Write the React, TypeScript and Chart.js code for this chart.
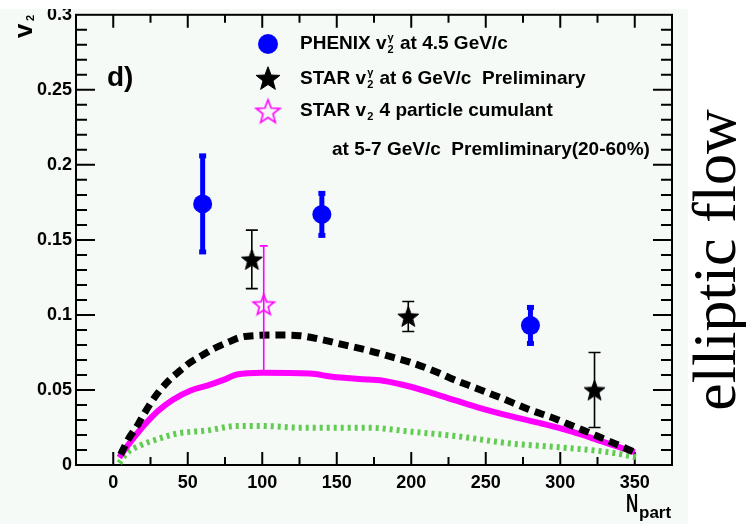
import React, { useEffect, useRef } from "react";
import { Chart, registerables } from "chart.js";

Chart.register(...registerables);

// ---- axes ----
const xTickValues = [0, 50, 100, 150, 200, 250, 300, 350];
const xTickLabels = ["0", "50", "100", "150", "200", "250", "300", "350"];
const yTickValues = [0, 0.05, 0.1, 0.15, 0.2, 0.25, 0.3];
const yTickLabels = ["0", "0.05", "0.1", "0.15", "0.2", "0.25", "0.3"];
const X_MIN = -25;
const X_MAX = 375;
const Y_MIN = 0;
const Y_MAX = 0.3;
const X_MINOR_STEP = 25;
const Y_MINOR_STEP = 0.01;

// ---- PHENIX v2 (gamma) at 4.5 GeV/c ----
const phenixNpart = [60, 140, 280];
const phenixV2 = [0.174, 0.167, 0.093];
const phenixErr = [0.033, 0.015, 0.013];

// ---- STAR v2 (gamma) at 6 GeV/c, preliminary ----
const starNpart = [93, 198, 323];
const starV2 = [0.137, 0.099, 0.05];
const starErr = [0.0195, 0.01, 0.025];

// ---- STAR v2{4} at 5-7 GeV/c ----
const cumNpart = [101];
const cumV2 = [0.107];
const cumErrUp = [0.039];
const cumErrDown = [0.045];

// ---- model curves ----
const dashNpart = [5, 10, 16, 20, 25, 30, 37, 45, 52, 60, 68, 78, 85, 96, 110, 125, 140, 155, 171, 185, 199, 217, 226, 244, 261, 279, 297, 306, 324, 341, 352];
const dashV2 = [0.007, 0.017, 0.026, 0.033, 0.041, 0.048, 0.056, 0.063, 0.0686, 0.0733, 0.0778, 0.0822, 0.085, 0.0863, 0.0866, 0.0862, 0.0835, 0.08, 0.0764, 0.0725, 0.0686, 0.062, 0.058, 0.051, 0.0444, 0.037, 0.0307, 0.027, 0.0196, 0.0124, 0.0075];

const solidNpart = [4, 9, 16, 23, 30, 40, 52, 63, 74, 83, 100, 132, 147, 165, 181, 199, 221, 244, 266, 288, 308, 328, 344, 350];
const solidV2 = [0.005, 0.012, 0.021, 0.029, 0.036, 0.0435, 0.0497, 0.0529, 0.0567, 0.0603, 0.0614, 0.0609, 0.0588, 0.0573, 0.0562, 0.0523, 0.0458, 0.0386, 0.0327, 0.0275, 0.0222, 0.0157, 0.0105, 0.0085];

const dotNpart = [4, 9, 18, 29, 43, 63, 83, 100, 125, 147, 172, 199, 232, 266, 299, 333, 351];
const dotV2 = [0.0013, 0.0078, 0.013, 0.017, 0.021, 0.023, 0.026, 0.026, 0.0249, 0.0248, 0.0248, 0.0223, 0.019, 0.0144, 0.0118, 0.0085, 0.0052];

const SANS = '"Liberation Sans", Arial, Helvetica, sans-serif';
const SERIF = '"Liberation Serif", "Times New Roman", serif';
const BLUE = "#0000ff";
const MAGENTA = "#ff00ff";
const GREEN = "#62cc52";
const PANEL_BG = "rgb(245,250,247)";

function toPoints(xs: number[], ys: number[]) {
  return xs.map((x, i) => ({ x, y: ys[i] }));
}

function makeStar(R: number, fill: string | null, stroke: string, lw: number): HTMLCanvasElement {
  const size = Math.ceil(2 * R + lw + 2);
  const c = document.createElement("canvas");
  c.width = size;
  c.height = size;
  const g = c.getContext("2d")!;
  g.translate(size / 2, size / 2 + R * 0.1);
  g.beginPath();
  for (let i = 0; i < 10; i++) {
    const r = i % 2 === 0 ? R : R * 0.42;
    const a = -Math.PI / 2 + (i * Math.PI) / 5;
    const px = r * Math.cos(a);
    const py = r * Math.sin(a);
    if (i === 0) g.moveTo(px, py);
    else g.lineTo(px, py);
  }
  g.closePath();
  if (fill) {
    g.fillStyle = fill;
    g.fill();
  }
  g.strokeStyle = stroke;
  g.lineWidth = lw;
  g.lineJoin = "miter";
  g.stroke();
  return c;
}

type Seg = { t: string; sup?: string; sub?: string };

function drawRich(ctx: CanvasRenderingContext2D, x: number, y: number, segs: Seg[], size: number) {
  let cx = x;
  for (const s of segs) {
    ctx.font = `bold ${size}px ${SANS}`;
    ctx.fillText(s.t, cx, y);
    cx += ctx.measureText(s.t).width;
    if (s.sup || s.sub) {
      const small = Math.round(size * 0.6);
      ctx.font = `bold ${small}px ${SANS}`;
      let w = 0;
      if (s.sup) {
        ctx.fillText(s.sup, cx + 1, y - size * 0.4);
        w = Math.max(w, ctx.measureText(s.sup).width);
      }
      if (s.sub) {
        ctx.fillText(s.sub, cx + 1, y + size * 0.22);
        w = Math.max(w, ctx.measureText(s.sub).width);
      }
      cx += w + 2;
    }
  }
}

// legend marker images, built once the DOM is available
let legendStars: { filled: HTMLCanvasElement; open: HTMLCanvasElement } | null = null;

// Error bars are drawn just before the marker dataset that owns them.
const errorBarPlugin = {
  id: "errorBars",
  beforeDatasetDraw(chart: any, args: any) {
    const ds = chart.data.datasets[args.index];
    const spec = ds.errorSpec;
    if (!spec) return;
    const { ctx } = chart;
    const xs = chart.scales.x;
    const ys = chart.scales.y;
    ctx.save();
    ctx.strokeStyle = spec.color;
    ctx.fillStyle = spec.color;
    spec.xs.forEach((xv: number, i: number) => {
      const px = xs.getPixelForValue(xv);
      const pTop = ys.getPixelForValue(spec.ys[i] + spec.up[i]);
      const pBot = ys.getPixelForValue(spec.ys[i] - spec.down[i]);
      ctx.lineWidth = spec.lw;
      ctx.beginPath();
      ctx.moveTo(px, pTop);
      ctx.lineTo(px, pBot);
      ctx.stroke();
      if (spec.capStyle === "block") {
        ctx.fillRect(px - spec.cap / 2, pTop - 1, spec.cap, 5);
        ctx.fillRect(px - spec.cap / 2, pBot - 4, spec.cap, 5);
      } else {
        ctx.lineWidth = 1.6;
        ctx.beginPath();
        ctx.moveTo(px - spec.cap / 2, pTop);
        ctx.lineTo(px + spec.cap / 2, pTop);
        ctx.moveTo(px - spec.cap / 2, pBot);
        ctx.lineTo(px + spec.cap / 2, pBot);
        ctx.stroke();
      }
    });
    ctx.restore();
  },
};

// Panel background, frame with inward ticks on all four sides, and annotations.
const framePlugin = {
  id: "frame",
  beforeDraw(chart: any) {
    const { ctx } = chart;
    ctx.save();
    ctx.fillStyle = "#ffffff";
    ctx.fillRect(0, 0, chart.width, chart.height);
    ctx.fillStyle = PANEL_BG;
    ctx.fillRect(0, 9, 688, chart.height - 9);
    ctx.restore();
  },
  beforeDatasetsDraw(chart: any) {
    const { ctx, chartArea } = chart;
    const { left, right, top, bottom } = chartArea;
    const xs = chart.scales.x;
    const ys = chart.scales.y;
    ctx.save();
    ctx.strokeStyle = "#000";
    ctx.lineWidth = 2;
    ctx.strokeRect(left, top, right - left, bottom - top);
    ctx.beginPath();
    for (let v = X_MIN + X_MINOR_STEP; v < X_MAX - 1e-9; v += X_MINOR_STEP) {
      const major = Math.abs(v % 50) < 1e-9;
      const px = xs.getPixelForValue(v);
      const len = major ? 13 : 8;
      ctx.moveTo(px, bottom);
      ctx.lineTo(px, bottom - len);
      ctx.moveTo(px, top);
      ctx.lineTo(px, top + len);
    }
    for (let i = 1; i * Y_MINOR_STEP < Y_MAX - 1e-9; i++) {
      const v = Y_MIN + i * Y_MINOR_STEP;
      const major = i % 5 === 0;
      const py = ys.getPixelForValue(v);
      const len = major ? 19 : 11;
      ctx.moveTo(left, py);
      ctx.lineTo(left + len, py);
      ctx.moveTo(right, py);
      ctx.lineTo(right - len, py);
    }
    ctx.stroke();
    ctx.restore();
  },
  afterDraw(chart: any) {
    const { ctx } = chart;
    ctx.save();
    // strip above the panel
    ctx.fillStyle = "#ffffff";
    ctx.fillRect(0, 0, 688, 9);

    ctx.fillStyle = "#000";
    ctx.textBaseline = "alphabetic";
    ctx.textAlign = "left";

    // panel tag
    ctx.font = `bold 28px ${SANS}`;
    ctx.fillText("d)", 107, 86);

    // y title: v_2 (rotated)
    ctx.save();
    ctx.translate(32, 38);
    ctx.rotate(-Math.PI / 2);
    ctx.font = `bold 26px ${SANS}`;
    ctx.fillText("v", 0, 0);
    ctx.font = `bold 11px ${SANS}`;
    ctx.fillText("2", 17, 2);
    ctx.restore();

    // x title: N_part
    ctx.save();
    ctx.translate(626, 512);
    ctx.scale(0.65, 1);
    ctx.font = `bold 26px ${SANS}`;
    ctx.fillText("N", 0, 0);
    ctx.restore();
    ctx.font = `bold 17px ${SANS}`;
    ctx.fillText("part", 639, 518);

    // legend
    ctx.fillStyle = BLUE;
    ctx.beginPath();
    ctx.arc(268, 44, 10, 0, Math.PI * 2);
    ctx.fill();
    if (legendStars) {
      const f = legendStars.filled;
      const o = legendStars.open;
      ctx.drawImage(f, 268 - f.width / 2, 78 - f.height / 2);
      ctx.drawImage(o, 268 - o.width / 2, 111 - o.height / 2);
    }

    ctx.fillStyle = "#000";
    drawRich(ctx, 300, 49, [{ t: "PHENIX v", sup: "γ", sub: "2" }, { t: " at 4.5 GeV/c" }], 19);
    drawRich(ctx, 300, 84, [{ t: "STAR v", sup: "γ", sub: "2" }, { t: " at 6 GeV/c  Preliminary" }], 19);
    drawRich(ctx, 300, 116, [{ t: "STAR v", sub: "2" }, { t: " 4 particle cumulant" }], 19);
    drawRich(ctx, 332, 155, [{ t: "at 5-7 GeV/c  Premliminary(20-60%)" }], 19);

    // side caption
    ctx.save();
    ctx.translate(735, 260);
    ctx.rotate(-Math.PI / 2);
    ctx.textAlign = "center";
    ctx.font = `62px ${SERIF}`;
    ctx.fillStyle = "#000";
    ctx.fillText("elliptic flow", 0, 0);
    ctx.restore();

    ctx.restore();
  },
};

export default function App() {
  const canvasRef = useRef<HTMLCanvasElement | null>(null);

  useEffect(() => {
    const canvas = canvasRef.current;
    if (!canvas) return;

    const starFilled = makeStar(11, "#000", "#000", 1);
    const starOpen = makeStar(11, null, MAGENTA, 1.6);
    legendStars = {
      filled: makeStar(12.5, "#000", "#000", 1),
      open: makeStar(12.5, null, MAGENTA, 1.6),
    };

    const chart = new Chart(canvas, {
      type: "scatter",
      data: {
        datasets: [
          {
            label: "PHENIX",
            data: toPoints(phenixNpart, phenixV2),
            pointStyle: "circle",
            pointRadius: 9.5,
            pointBackgroundColor: BLUE,
            pointBorderColor: BLUE,
            pointBorderWidth: 0,
            showLine: false,
            order: 0,
            errorSpec: { xs: phenixNpart, ys: phenixV2, up: phenixErr, down: phenixErr, color: BLUE, lw: 5, cap: 7, capStyle: "block" },
          } as any,
          {
            label: "STAR gamma",
            data: toPoints(starNpart, starV2),
            pointStyle: starFilled,
            pointRadius: 11,
            showLine: false,
            order: 0,
            errorSpec: { xs: starNpart, ys: starV2, up: starErr, down: starErr, color: "#000", lw: 1.6, cap: 12, capStyle: "line" },
          } as any,
          {
            label: "STAR v2{4}",
            data: toPoints(cumNpart, cumV2),
            pointStyle: starOpen,
            pointRadius: 11,
            showLine: false,
            order: 0,
            errorSpec: { xs: cumNpart, ys: cumV2, up: cumErrUp, down: cumErrDown, color: MAGENTA, lw: 1.6, cap: 8, capStyle: "line" },
          } as any,
          {
            label: "dashed",
            data: toPoints(dashNpart, dashV2),
            showLine: true,
            pointRadius: 0,
            borderColor: "#000",
            borderWidth: 7,
            borderDash: [10, 6],
            cubicInterpolationMode: "monotone",
            order: 1,
          } as any,
          {
            label: "solid",
            data: toPoints(solidNpart, solidV2),
            showLine: true,
            pointRadius: 0,
            borderColor: MAGENTA,
            borderWidth: 6,
            cubicInterpolationMode: "monotone",
            order: 2,
          } as any,
          {
            label: "dotted",
            data: toPoints(dotNpart, dotV2),
            showLine: true,
            pointRadius: 0,
            borderColor: GREEN,
            borderWidth: 6,
            borderDash: [3, 4],
            cubicInterpolationMode: "monotone",
            order: 3,
          } as any,
        ],
      },
      options: {
        responsive: false,
        animation: false,
        devicePixelRatio: 1,
        layout: { padding: { left: 0, top: 11, right: 74, bottom: 0 } },
        plugins: {
          legend: { display: false },
          tooltip: { enabled: false },
        },
        elements: { point: { hoverRadius: 0 } },
        scales: {
          x: {
            type: "linear",
            min: X_MIN,
            max: X_MAX,
            grid: { display: false, drawTicks: false },
            border: { display: false },
            afterBuildTicks: (scale: any) => {
              scale.ticks = xTickValues.map((v) => ({ value: v }));
            },
            afterFit: (scale: any) => {
              scale.height = 59;
            },
            ticks: {
              autoSkip: false,
              maxRotation: 0,
              padding: 7,
              color: "#000",
              font: { family: SANS, weight: "bold", size: 18 },
              callback: (_v: any, i: number) => xTickLabels[i],
            },
          },
          y: {
            type: "linear",
            min: Y_MIN,
            max: Y_MAX,
            grid: { display: false, drawTicks: false },
            border: { display: false },
            afterBuildTicks: (scale: any) => {
              scale.ticks = yTickValues.map((v) => ({ value: v }));
            },
            afterFit: (scale: any) => {
              scale.width = 76;
            },
            ticks: {
              autoSkip: false,
              padding: 4,
              color: "#000",
              font: { family: SANS, weight: "bold", size: 18 },
              callback: (_v: any, i: number) => yTickLabels[i],
            },
          },
        },
      } as any,
      plugins: [framePlugin, errorBarPlugin],
    });

    return () => {
      chart.destroy();
    };
  }, []);

  return (
    <div style={{ position: "fixed", left: 0, top: 0, width: 746, height: 524, background: "#fff" }}>
      <canvas ref={canvasRef} width={746} height={524} style={{ display: "block", width: 746, height: 524 }} />
    </div>
  );
}
